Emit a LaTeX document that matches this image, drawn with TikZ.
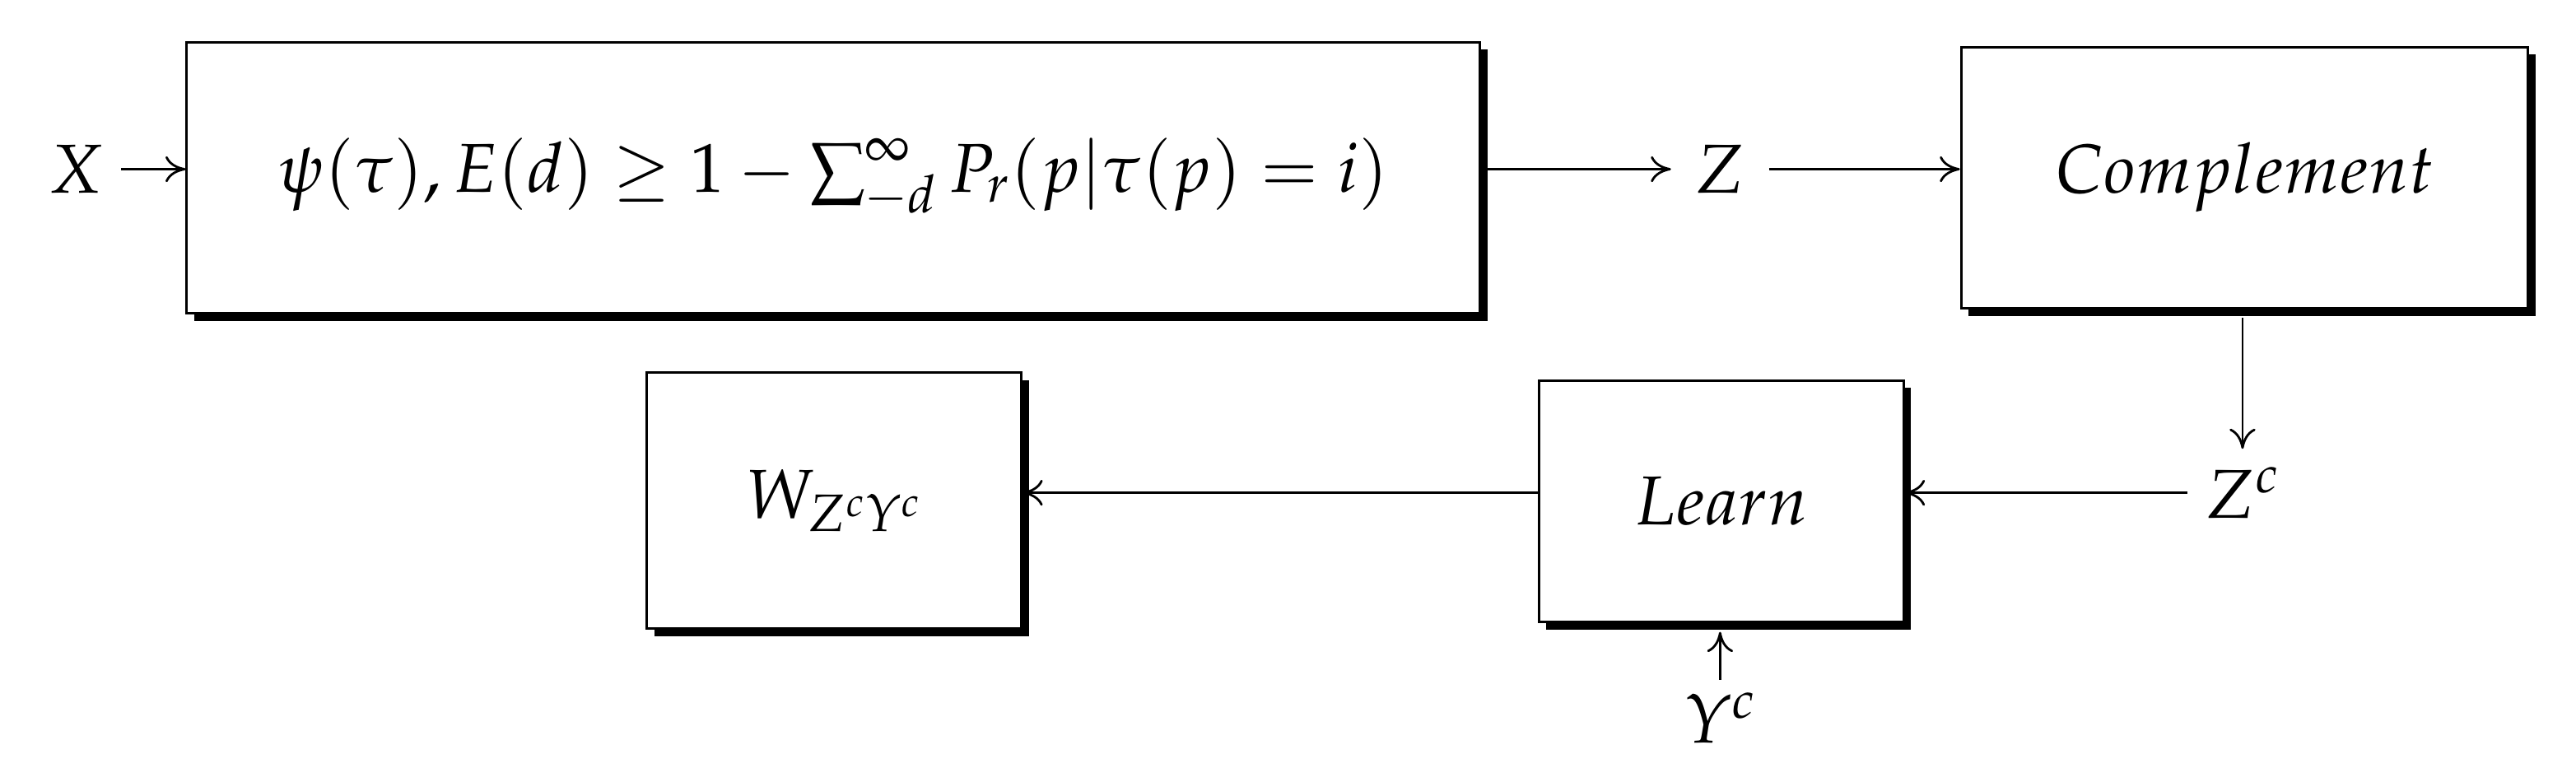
\documentclass[tikz,border=0pt]{standalone}
\usepackage{mathpazo}
\usetikzlibrary{shadows,arrows.meta}
\begin{document}
\begin{tikzpicture}[x=0.02cm,y=-0.02cm,line width=0.8pt,
  blk/.style={draw,fill=white,rectangle,anchor=north west,inner sep=0pt,
    drop shadow={shadow xshift=2.6pt,shadow yshift=-2.6pt,opacity=1,fill=black}},
  lbl/.style={font=\fontsize{24}{28}\selectfont},
  arr/.style={-{To[length=7pt,width=9pt]}}]
\useasboundingbox (0,0) rectangle (1568,476);
\node[blk,minimum width=787*0.02cm,minimum height=165*0.02cm,lbl] (b1) at (113,25) {$\psi(\tau),E(d)\geq 1-\sum_{-d}^{\infty}P_r(p|\tau(p)=i)$};
\node[blk,minimum width=345*0.02cm,minimum height=159*0.02cm,lbl] (cp) at (1193,28) {$Complement$};
\node[blk,minimum width=222*0.02cm,minimum height=147*0.02cm,lbl] (ln) at (936,231) {$Learn$};
\node[blk,minimum width=228*0.02cm,minimum height=156*0.02cm,lbl] (w) at (393,226) {$W_{Z^cY^c}$};
\node[lbl,inner sep=6pt] (x) at (46,103) {$X$};
\node[lbl,inner sep=8pt] (z) at (1047,103) {$Z$};
\node[lbl,inner sep=6pt] (zc) at (1365,300) {$Z^c$};
\node[lbl,inner sep=4pt] (yc) at (1047,437) {$Y^c$};
\draw[arr] (x) -- (b1.west|-x);
\draw[arr] (b1.east|-z) -- (z);
\draw[arr] (z) -- (cp.west|-z);
\draw[arr] ([yshift=-3pt]cp.south-|zc) -- (zc);
\draw[arr] (zc) -- (ln.east|-zc);
\draw[arr] (ln.west|-zc) -- (w.east|-zc);
\draw[arr] (yc) -- ([yshift=-3pt]ln.south-|yc);
\end{tikzpicture}
\end{document}
